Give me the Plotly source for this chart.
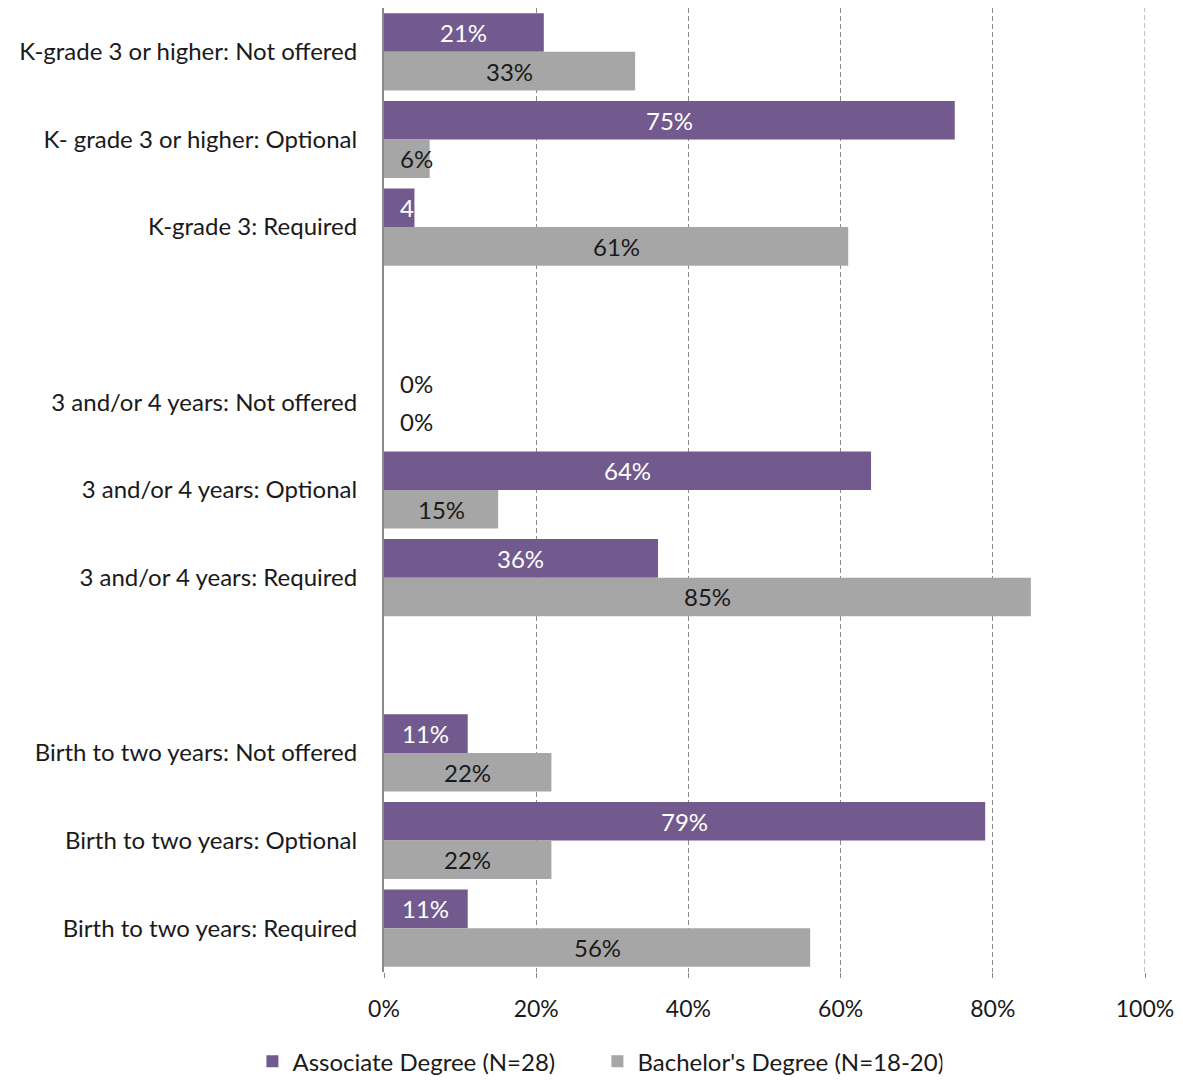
import plotly.graph_objects as go

# Row labels, top to bottom; blank strings separate the three age groups
categories = [
    "K-grade 3 or higher: Not offered",
    "K- grade 3 or higher: Optional",
    "K-grade 3: Required",
    " ",
    "3 and/or 4 years: Not offered",
    "3 and/or 4 years: Optional",
    "3 and/or 4 years: Required",
    "  ",
    "Birth to two years: Not offered",
    "Birth to two years: Optional",
    "Birth to two years: Required",
]

associate = [21, 75, 4, None, 0, 64, 36, None, 11, 79, 11]
bachelor = [33, 6, 61, None, 0, 15, 85, None, 22, 22, 56]

series_names = ["Associate Degree (N=28)", "Bachelor's Degree (N=18-20)"]
tick_vals = [0, 20, 40, 60, 80, 100]
tick_text = ["0%", "20%", "40%", "60%", "80%", "100%"]

PURPLE = "#725A8E"
GREY = "#A6A6A6"
TEXT = "#1a1a1a"
GRID = "#8a8a8a"
FONT = "Lato"
BARGAP = 0.12

fig = go.Figure()
fig.add_trace(go.Bar(y=categories, x=associate, orientation="h", name=series_names[0],
                     marker=dict(color=PURPLE, line=dict(width=0))))
fig.add_trace(go.Bar(y=categories, x=bachelor, orientation="h", name=series_names[1],
                     marker=dict(color=GREY, line=dict(width=0))))

# Value labels centred in each bar; narrow bars get a label pinned near the axis
half = (1 - BARGAP) / 4
annotations = []
for series, offset, inside_color in ((associate, -half, "white"), (bachelor, half, TEXT)):
    for i, v in enumerate(series):
        if v is None:
            continue
        color = inside_color if v > 0 else TEXT
        if v >= 8:
            annotations.append(dict(x=v / 2, y=i + offset, xref="x", yref="y", text=f"{v}%",
                                    showarrow=False, xanchor="center", yanchor="middle",
                                    font=dict(family=FONT, size=24, color=color)))
        else:
            annotations.append(dict(x=0, y=i + offset, xref="x", yref="y", text=f"{v}%",
                                    showarrow=False, xanchor="left", yanchor="middle", xshift=14,
                                    font=dict(family=FONT, size=24, color=color)))

# Dashed gridline at the right edge of the axis (100%)
fig.add_shape(type="line", xref="x", yref="paper", x0=tick_vals[-1], x1=tick_vals[-1], y0=0, y1=1,
              line=dict(color=GRID, width=1, dash="5px,3px"), layer="below")

fig.update_layout(
    barmode="group",
    bargap=BARGAP,
    bargroupgap=0,
    width=1183,
    height=1080,
    margin=dict(l=384, r=38, t=8, b=108),
    paper_bgcolor="white",
    plot_bgcolor="white",
    font=dict(family=FONT, size=24, color=TEXT),
    annotations=annotations,
    legend=dict(orientation="h", xref="container", yref="container", x=0.505, y=0.017,
                xanchor="center", yanchor="middle", font=dict(family=FONT, size=24, color=TEXT),
                itemwidth=30, entrywidth=300, traceorder="normal"),
    xaxis=dict(range=[0, 100], tickvals=tick_vals, ticktext=tick_text,
               showgrid=True, gridcolor=GRID, gridwidth=1, griddash="5px,3px",
               zeroline=False, showline=False,
               ticks="outside", ticklen=5, tickcolor=GRID, ticklabelstandoff=11,
               tickfont=dict(family=FONT, size=23, color=TEXT)),
    yaxis=dict(categoryorder="array", categoryarray=categories, autorange="reversed",
               showgrid=False, zeroline=False, showline=True, linecolor=GRID, linewidth=2,
               ticks="", ticklabelstandoff=20,
               tickfont=dict(family=FONT, size=24, color=TEXT)),
)

fig.write_html("out.html")
